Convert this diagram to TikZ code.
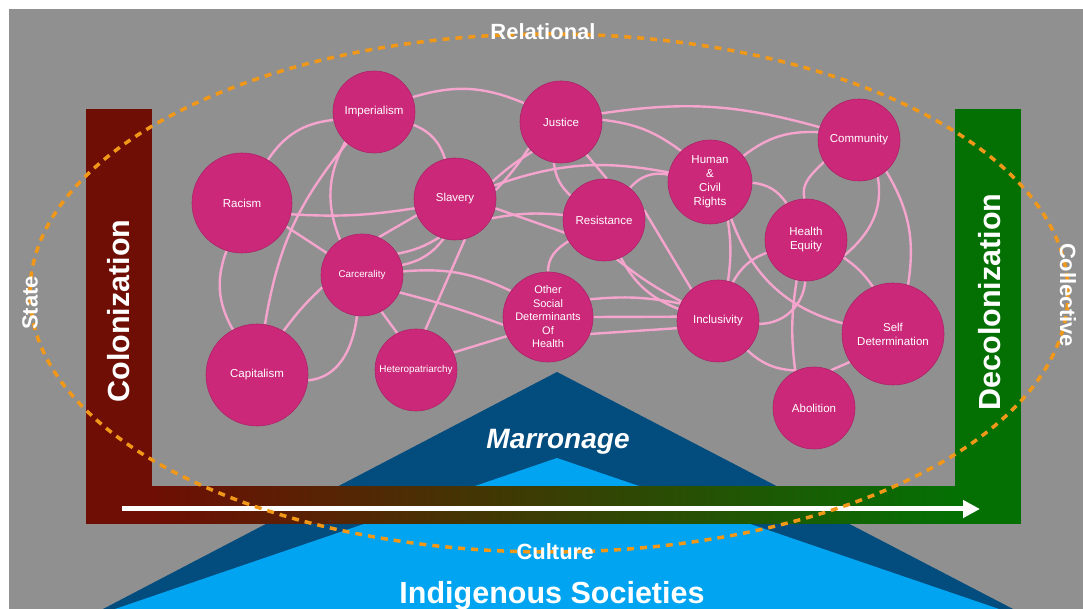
\documentclass[tikz,border=0pt]{standalone}
\usepackage{fontspec}
\setmainfont{Liberation Sans}
\usetikzlibrary{arrows.meta,topaths}
\definecolor{bggray}{RGB}{144,144,144}
\definecolor{colred}{RGB}{110,14,4}
\definecolor{decgreen}{RGB}{4,112,4}
\definecolor{darkblue}{RGB}{2,76,126}
\definecolor{lightblue}{RGB}{0,164,240}
\definecolor{bubble}{RGB}{204,40,122}
\definecolor{edgepink}{RGB}{245,165,205}
\definecolor{dashorange}{RGB}{242,152,24}
\pgfdeclarelayer{back}
\pgfdeclarelayer{lines}
\pgfdeclarelayer{front}
\pgfsetlayers{back,lines,main,front}
\tikzset{
  bub/.style={circle, fill=bubble, draw=bubble!85!black, line width=0.6pt, inner sep=0pt,
    text=white, align=center, font=\fontsize{11.5}{13.8}\selectfont},
  pinkline/.style={draw=edgepink, line width=2.4pt},
  bigtxt/.style={text=white, font=\bfseries\fontsize{30.5}{32}\selectfont, inner sep=0pt},
  midtxt/.style={text=white, font=\bfseries\fontsize{22}{24}\selectfont, inner sep=0pt},
}
\begin{document}
\begin{tikzpicture}[x=1pt,y=1pt]
\useasboundingbox (0,0) rectangle (1083,609);
\begin{pgfonlayer}{back}
\fill[white] (0,0) rectangle (1083,609);
\fill[bggray] (9,0) rectangle (1083,600);
% triangles
\fill[darkblue] (557,237) -- (1013,0) -- (103,0) -- cycle;
\fill[lightblue] (557,151) -- (999,0) -- (115,0) -- cycle;
% bars
\fill[colred] (86,85) rectangle (152,500);
\fill[decgreen] (955,85) rectangle (1021,500);
\shade[left color=colred, right color=decgreen] (152,85) rectangle (955,122);
\coordinate (arrS) at (122,100);
\coordinate (arrE) at (980,100);
\draw[white, line width=5pt, -{Triangle[length=17pt,width=17pt]}] (arrS) -- (arrE);
\end{pgfonlayer}

% bubbles
\node[bub, minimum size=82pt]  (imp) at (374,497) {Imperialism};
\node[bub, minimum size=100pt] (rac) at (242,406) {Racism};
\node[bub, minimum size=82pt]  (sla) at (455,410) {Slavery};
\node[bub, minimum size=82pt, font=\fontsize{9.8}{12}\selectfont]  (car) at (362,334) {Carcerality};
\node[bub, minimum size=102pt] (cap) at (257,234) {Capitalism};
\node[bub, minimum size=82pt, font=\fontsize{9.9}{12}\selectfont]  (het) at (416,239) {Heteropatriarchy};
\node[bub, minimum size=82pt]  (jus) at (561,487) {Justice};
\node[bub, minimum size=82pt]  (res) at (604,389) {Resistance};
\node[bub, minimum size=90pt, font=\fontsize{11}{13.5}\selectfont]  (osd) at (548,292) {Other\\Social\\Determinants\\Of\\Health};
\node[bub, minimum size=84pt, font=\fontsize{11.5}{14}\selectfont]  (hum) at (710,427) {Human\\\&\\Civil\\Rights};
\node[bub, minimum size=82pt]  (inc) at (718,288) {Inclusivity};
\node[bub, minimum size=82pt]  (com) at (859,469) {Community};
\node[bub, minimum size=82pt, font=\fontsize{11.5}{14}\selectfont]  (heq) at (806,369) {Health\\Equity};
\node[bub, minimum size=102pt, font=\fontsize{11.5}{14}\selectfont] (sdt) at (893,275) {Self\\Determination};
\node[bub, minimum size=82pt]  (abo) at (814,201) {Abolition};

\begin{pgfonlayer}{lines}
\draw[pinkline] (rac.59) to[bend left=25] (imp.191);
\draw[pinkline] (rac.252) to[bend right=25] (cap.118);
\draw[pinkline] (rac.-13) to[bend right=6] (sla.193);
\draw[pinkline] (rac.-28) -- (car.148);
\draw[pinkline] (cap.81) to[bend left=15] (imp.229);
\draw[pinkline] (imp.226) to[bend right=25] (car.122);
\draw[pinkline] (cap.59) to[bend left=5] (car.197);
\draw[pinkline] (cap.-6) to[out=5,in=263] (car.263);
\draw[pinkline] (imp.-18) to[bend left=25] (sla.104);
\draw[pinkline] (imp.21) to[bend left=20] (jus.153);
\draw[pinkline] (car.66) -- (sla.203);
\draw[pinkline] (car.31) to[bend right=10] (sla.248);
\draw[pinkline] (car.14) to[bend right=20] (sla.254);
\draw[pinkline] (car.-62) -- (het.117);
\draw[pinkline] (het.77) -- (sla.284);
\draw[pinkline] (het.25) -- (osd.205);
\draw[pinkline] (car.5) to[bend left=15] (osd.145);
\draw[pinkline] (car.-25) to[bend left=3] (osd.190);
\draw[pinkline] (sla.25) to[bend left=5] (jus.226);
\draw[pinkline] (sla.12) to[bend right=5] (jus.219);
\draw[pinkline] (sla.19) to[bend left=15] (hum.167);
\draw[pinkline] (sla.-28) to[bend left=8] (res.173);
\draw[pinkline] (sla.-13) -- (res.198);
\draw[pinkline] (jus.260) to[bend right=20] (res.144);
\draw[pinkline] (jus.-52) -- (res.86);
\draw[pinkline] (jus.3) to[bend left=15] (hum.133);
\draw[pinkline] (jus.12) to[bend left=12] (com.162);
\draw[pinkline] (res.51) to[bend left=30] (hum.170);
\draw[pinkline] (res.211) to[out=211,in=90] (osd.90);
\draw[pinkline] (res.14) -- (inc.130);
\draw[pinkline] (res.-72) to[bend right=5] (inc.152);
\draw[pinkline] (res.-66) to[bend right=20] (inc.163);
\draw[pinkline] (osd.23) to[bend left=8] (inc.155);
\draw[pinkline] (osd.0) -- (inc.174);
\draw[pinkline] (osd.-22) -- (inc.190);
\draw[pinkline] (hum.38) to[bend left=20] (com.169);
\draw[pinkline] (hum.-1) to[bend left=25] (heq.118);
\draw[pinkline] (hum.-65) to[bend left=8] (inc.76);
\draw[pinkline] (hum.-60) to[out=-70,in=165] (sdt.168);
\draw[pinkline] (heq.92) to[out=105,in=225] (com.212);
\draw[pinkline] (heq.-22) to[out=40,in=-80] (com.-63);
\draw[pinkline] (heq.198) to[bend right=20] (inc.69);
\draw[pinkline] (heq.269) to[out=265,in=0] (inc.-4);
\draw[pinkline] (heq.-25) to[bend left=10] (sdt.113);
\draw[pinkline] (heq.257) to[bend right=8] (abo.117);
\draw[pinkline] (com.-49) to[bend left=20] (sdt.73);
\draw[pinkline] (inc.-45) to[bend right=20] (abo.115);
\draw[pinkline] (sdt.213) -- (abo.66);
\end{pgfonlayer}

\begin{pgfonlayer}{front}
\draw[dashorange, line width=3.5pt, dash pattern=on 7pt off 6pt] (549,316) ellipse [x radius=519pt, y radius=259pt];
\node[bigtxt, rotate=90] (colt) at (119,298) {Colonization};
\node[bigtxt, rotate=90] (dect) at (990,307) {Decolonization};
\node[text=white, font=\bfseries\itshape\fontsize{28}{30}\selectfont, inner sep=0pt, anchor=base] (marr) at (558,160) {Marronage};
\node[text=white, font=\bfseries\fontsize{30.5}{32}\selectfont, inner sep=0pt, anchor=base] (indi) at (552,5) {Indigenous Societies};
\node[midtxt, anchor=base] (cult) at (555,49) {Culture};
\node[midtxt, anchor=base] (rela) at (543,569) {Relational};
\node[midtxt, rotate=90] (stat) at (30,306) {State};
\node[midtxt, rotate=-90] (coll) at (1068,314) {Collective};
\end{pgfonlayer}
\end{tikzpicture}
\end{document}
